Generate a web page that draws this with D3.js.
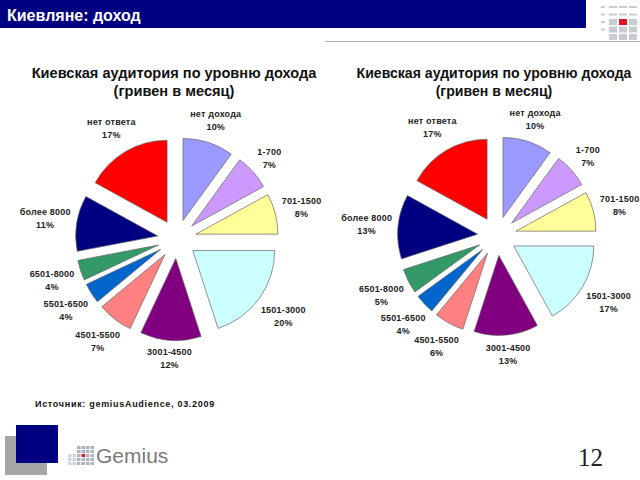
<!DOCTYPE html>
<html lang="ru">
<head>
<meta charset="UTF-8">
<title>Киевляне: доход</title>
<script src="https://d3js.org/d3.v7.min.js"></script>
<style>
    body { margin: 0; padding: 0; background: #ffffff; }
    svg { display: block; font-family: "Liberation Sans", Arial, sans-serif; }
    .lbl { font-size: 9px; font-weight: bold; fill: #222222; letter-spacing: 0.2px; }
    .ptitle { font-weight: bold; fill: #111111; }
</style>
</head>
<body>
<svg id="chart" width="640" height="480"></svg>
<script>
    // data (clockwise from 12 o'clock)
    const categories = ["нет дохода", "1-700", "701-1500", "1501-3000", "3001-4500",
                        "4501-5500", "5501-6500", "6501-8000", "более 8000", "нет ответа"];
    const valuesLeft = [10, 7, 8, 20, 12, 7, 4, 4, 11, 17];
    const valuesRight = [10, 7, 8, 17, 13, 6, 4, 5, 13, 17];
    const sliceColors = ["#9999ff", "#cc99ff", "#ffff99", "#ccffff", "#800080",
                         "#ff8080", "#0066cc", "#339966", "#000080", "#ff0000"];
    const pieTitle = ["Киевская аудитория по уровню дохода", "(гривен в месяц)"];
    const sourceNote = "Источник: gemiusAudience, 03.2009";

    const svg = d3.select("#chart");

    // header bar
    svg.append("rect").attr("x", 0).attr("y", 0).attr("width", 586).attr("height", 28).attr("fill", "#000080");
    svg.append("text").attr("x", 7).attr("y", 21).attr("fill", "#ffffff")
        .attr("font-size", 16).attr("font-weight", "bold").text("Киевляне: доход");
    svg.append("line").attr("x1", 325).attr("x2", 640).attr("y1", 41.5).attr("y2", 41.5)
        .attr("stroke", "#b0b0b0").attr("stroke-width", 1);

    // small logo in the corner
    const logo = svg.append("g");
    [0, 1, 2, 3].forEach(c => {
        [0, 1, 2, 3, 4].forEach(r => {
            if (c === 0 && r > 3) return;
            const small = r < 2 || c === 0;
            logo.append("rect")
                .attr("x", 599 + c * 10 + (c === 0 ? 2 : 0))
                .attr("y", 4 + r * 7.5 + (small ? 2 : 0))
                .attr("width", c === 0 ? 4 : 8)
                .attr("height", small ? 2 : 6)
                .attr("fill", (c === 2 && r === 2) ? "#e0141e" : "#c8cbd0");
        });
    });

    function drawPie(values, o) {
        const total = d3.sum(values);
        const pie = d3.pie().sort(null).value(d => d);
        const arcs = pie(values);
        const arc = d3.arc().innerRadius(0).outerRadius(o.r);
        const g = svg.append("g").attr("transform", `translate(${o.cx},${o.cy})`);

        g.selectAll("path.slice")
            .data(arcs)
            .join("path")
            .attr("class", "slice")
            .attr("d", arc)
            .attr("fill", (d, i) => sliceColors[i])
            .attr("stroke", "#666666")
            .attr("stroke-width", 0.7)
            .attr("transform", d => {
                const a = (d.startAngle + d.endAngle) / 2;
                return `translate(${Math.sin(a) * o.explode},${-Math.cos(a) * o.explode})`;
            });

        // data labels sit just outside each slice
        arcs.forEach((d, i) => {
            const a = (d.startAngle + d.endAngle) / 2;
            const lg = g.append("g");
            lg.append("text").attr("class", "lbl").attr("text-anchor", "middle")
                .attr("y", -3).text(categories[i]);
            lg.append("text").attr("class", "lbl").attr("text-anchor", "middle")
                .attr("y", 10).text(Math.round(values[i] / total * 100) + "%");
            const bb = lg.node().getBBox();
            const hw = bb.width / 2, hh = bb.height / 2;
            const R = o.r + o.explode + 5 + Math.abs(Math.sin(a)) * hw + Math.abs(Math.cos(a)) * hh;
            lg.attr("transform", `translate(${Math.sin(a) * R},${-Math.cos(a) * R})`);
        });

        svg.append("text").attr("class", "ptitle").attr("text-anchor", "middle")
            .attr("x", o.tx).attr("y", o.ty).attr("font-size", o.ts).text(pieTitle[0]);
        svg.append("text").attr("class", "ptitle").attr("text-anchor", "middle")
            .attr("x", o.tx).attr("y", o.ty + 18).attr("font-size", o.ts).text(pieTitle[1]);
    }

    drawPie(valuesLeft, { cx: 177, cy: 239, r: 82, explode: 19.5, tx: 174, ty: 78, ts: 14.6 });
    drawPie(valuesRight, { cx: 497, cy: 236, r: 80, explode: 19.5, tx: 494, ty: 78, ts: 14.1 });

    svg.append("text").attr("x", 35).attr("y", 407).attr("font-size", 9).attr("font-weight", "bold")
        .attr("fill", "#111111").attr("letter-spacing", 0.7).text(sourceNote);

    // footer
    svg.append("rect").attr("x", 5).attr("y", 436).attr("width", 42).attr("height", 39).attr("fill", "#a6a6a6");
    svg.append("rect").attr("x", 16).attr("y", 425).attr("width", 42).attr("height", 38).attr("fill", "#000080");

    const gl = svg.append("g");
    [0, 1, 2, 3, 4, 5].forEach(c => {
        [0, 1, 2, 3, 4].forEach(r => {
            if (c < 2 && r < 2) return;
            gl.append("rect")
                .attr("x", 68 + c * 4.5).attr("y", 446 + r * 4)
                .attr("width", 3.5).attr("height", 3)
                .attr("fill", (c === 3 && r === 2) ? "#e0141e" : (c < 2 ? "#d0d3da" : "#aeb3bf"));
        });
    });
    svg.append("text").attr("x", 96).attr("y", 463).attr("font-size", 21)
        .attr("fill", "#7a7a7a").text("Gemius");

    svg.append("text").attr("x", 578).attr("y", 466).attr("font-size", 25)
        .attr("font-family", "'Liberation Serif', 'Times New Roman', serif")
        .attr("fill", "#222222").text("12");
</script>
</body>
</html>
